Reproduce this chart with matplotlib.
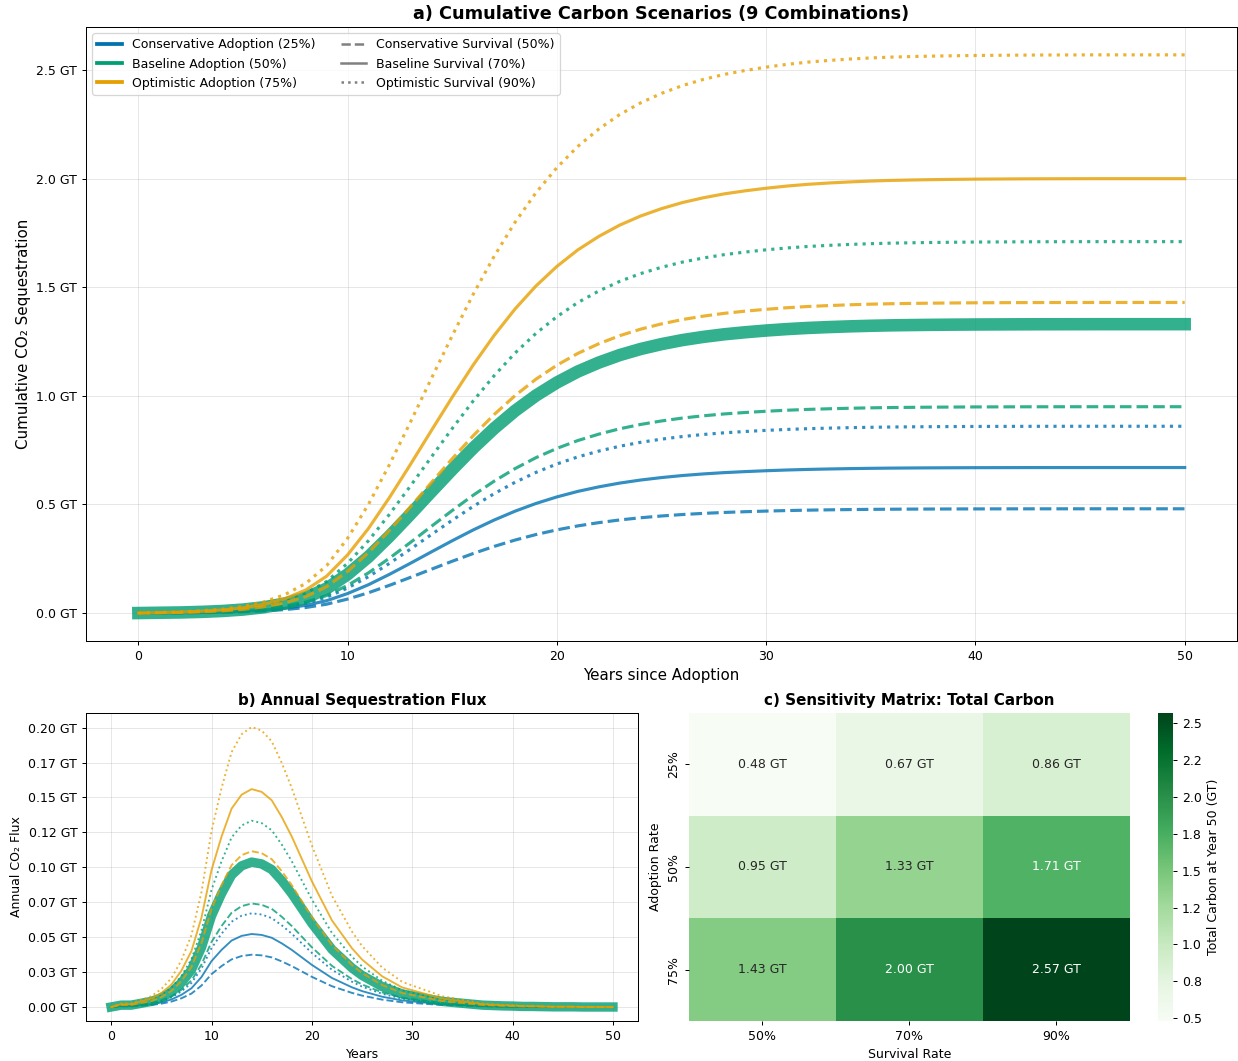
import numpy as np
import matplotlib
matplotlib.use("Agg")
import matplotlib.pyplot as plt
from matplotlib.lines import Line2D
from matplotlib.ticker import FuncFormatter, FixedLocator
import seaborn as sns

years = np.arange(0, 51)

# fraction of the year-50 total that has been sequestered by each year
cumulative_share = [
    0.000, 0.001, 0.002, 0.004, 0.007, 0.012, 0.020, 0.033, 0.053, 0.085,
    0.134, 0.195, 0.266, 0.342, 0.420, 0.497, 0.571, 0.639, 0.700, 0.753,
    0.798, 0.836, 0.867, 0.893, 0.914, 0.931, 0.945, 0.956, 0.965, 0.972,
    0.978, 0.983, 0.987, 0.990, 0.9925, 0.9945, 0.996, 0.997, 0.9978, 0.9984,
    0.9989, 0.9992, 0.9995, 0.9997, 0.9998, 0.9999, 1.0, 1.0, 1.0, 1.0, 1.0,
]

adoption_names = ["Conservative", "Baseline", "Optimistic"]
adoption_pct = ["25%", "50%", "75%"]
survival_pct = ["50%", "70%", "90%"]
adoption_colors = ["#0072B2", "#009E73", "#E69F00"]
survival_styles = ["--", "-", ":"]

# total carbon at year 50 (GT): rows = adoption, cols = survival
total_carbon = np.array([
    [0.48, 0.67, 0.86],
    [0.95, 1.33, 1.71],
    [1.43, 2.00, 2.57],
])

flux_ticks = [0.0, 0.025, 0.05, 0.075, 0.1, 0.125, 0.15, 0.175, 0.2]

share = np.array(cumulative_share)

dpi = 90.4
fig = plt.figure(figsize=(1238 / dpi, 1061 / dpi), dpi=dpi)
ax_a = fig.add_axes([0.0695, 0.3959, 0.9297, 0.5787])
ax_b = fig.add_axes([0.0695, 0.0377, 0.4459, 0.2903])
ax_c = fig.add_axes([0.5565, 0.0377, 0.3562, 0.2903])
cax = fig.add_axes([0.9354, 0.0377, 0.0121, 0.2903])

for i in range(3):
    for j in range(3):
        cum = total_carbon[i, j] * share
        flux = np.diff(cum, prepend=cum[0])
        base = (i == 1 and j == 1)
        ax_a.plot(years, cum, color=adoption_colors[i], ls=survival_styles[j],
                  lw=10 if base else 2.5, alpha=0.8)
        ax_b.plot(years, flux, color=adoption_colors[i], ls=survival_styles[j],
                  lw=7.5 if base else 1.5, alpha=0.8)

# panel a
ax_a.set_title("a) Cumulative Carbon Scenarios (9 Combinations)", fontsize=14, fontweight="bold")
ax_a.set_xlabel("Years since Adoption", fontsize=12)
ax_a.set_ylabel("Cumulative CO₂ Sequestration", fontsize=12)
ax_a.yaxis.set_major_formatter(FuncFormatter(lambda v, p: f"{v:.1f} GT"))
ax_a.grid(True, alpha=0.3)

handles = []
for name, pct, c in zip(adoption_names, adoption_pct, adoption_colors):
    handles.append(Line2D([0], [0], color=c, lw=3, label=f"{name} Adoption ({pct})"))
for name, pct, ls in zip(adoption_names, survival_pct, survival_styles):
    handles.append(Line2D([0], [0], color="gray", lw=2, ls=ls, label=f"{name} Survival ({pct})"))
ax_a.legend(handles=handles, ncol=2, loc="upper left", fontsize=10)

# panel b
ax_b.set_title("b) Annual Sequestration Flux", fontsize=12, fontweight="bold")
ax_b.set_xlabel("Years", fontsize=10)
ax_b.set_ylabel("Annual CO₂ Flux", fontsize=10)
ax_b.yaxis.set_major_locator(FixedLocator(flux_ticks))
ax_b.yaxis.set_major_formatter(FuncFormatter(lambda v, p: f"{v:.2f} GT"))
ax_b.grid(True, alpha=0.3)

# panel c
labels = np.array([[f"{v:.2f} GT" for v in row] for row in total_carbon])
sns.heatmap(total_carbon, ax=ax_c, cbar_ax=cax, cmap="Greens", annot=labels, fmt="",
            annot_kws={"fontsize": 10},
            xticklabels=survival_pct, yticklabels=adoption_pct,
            cbar_kws={"label": "Total Carbon at Year 50 (GT)", "format": "%.1f"})
ax_c.set_title("c) Sensitivity Matrix: Total Carbon", fontsize=12, fontweight="bold")
ax_c.set_xlabel("Survival Rate", fontsize=10)
ax_c.set_ylabel("Adoption Rate", fontsize=10)

fig.savefig("out.png", dpi=dpi)
